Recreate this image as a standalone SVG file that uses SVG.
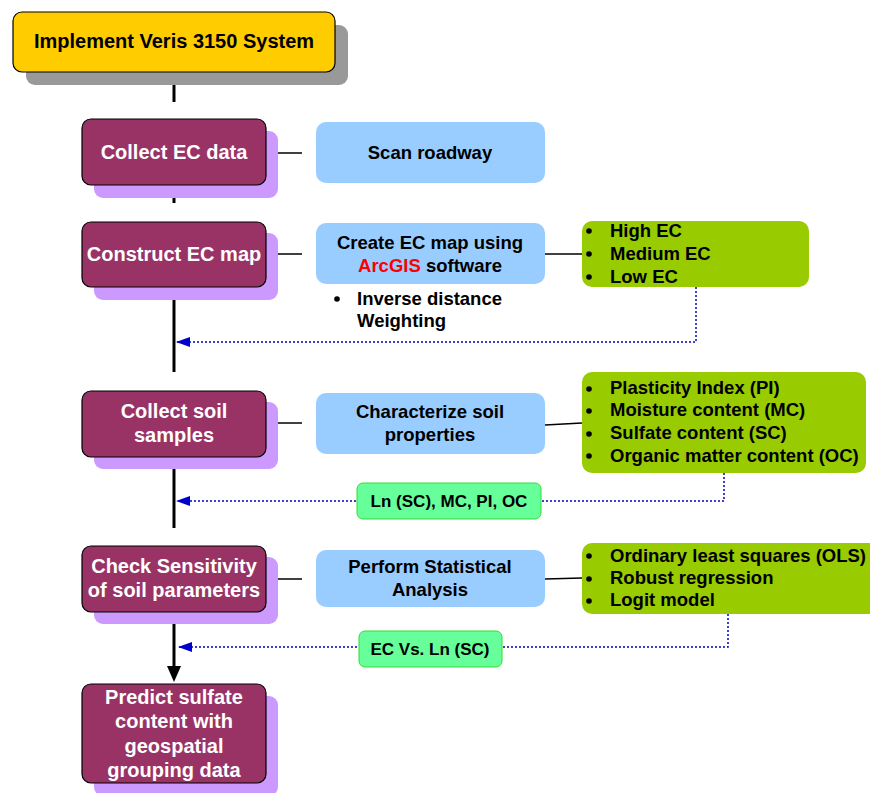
<svg xmlns="http://www.w3.org/2000/svg" width="870" height="793" viewBox="0 0 870 793">
<defs>
<style>
text{font-family:"Liberation Sans",Arial,sans-serif;font-weight:bold;font-size:18.5px;text-anchor:middle}
.w{fill:#fff;font-size:20px}
.t{font-size:20px}
.k{fill:#000}
.l{text-anchor:start}
.s{font-size:17px}
.main{fill:#993366;stroke:#000;stroke-width:1.2}
.msh{fill:#CC99FF}
.blue{fill:#99CCFF}
.grn{fill:#99CC00}
.lbl{fill:#66FF99;stroke:#33DD33;stroke-width:1}
.ln{stroke:#000;stroke-width:1.5;fill:none}
.thick{stroke:#000;stroke-width:3;fill:none}
.dot{stroke:#0000CC;stroke-width:1.5;stroke-dasharray:2 2;fill:none}
</style>
<marker id="ba" viewBox="0 0 14 10" refX="13" refY="5" markerWidth="14" markerHeight="10" markerUnits="userSpaceOnUse" orient="auto">
<path d="M0,0 L14,5 L0,10 Z" fill="#0000CC"/>
</marker>
</defs>
<rect width="870" height="793" fill="#fff"/>

<g id="connectors">
<line class="thick" x1="174" y1="72" x2="174" y2="102"/>
<line class="thick" x1="174" y1="185" x2="174" y2="203"/>
<line class="thick" x1="174" y1="287" x2="174" y2="372"/>
<line class="thick" x1="174" y1="457" x2="174" y2="528"/>
<line class="thick" x1="174" y1="612" x2="174" y2="666"/>
<path d="M167,666 L181,666 L174,682 Z" fill="#000"/>
<line class="ln" x1="265" y1="153" x2="302" y2="153"/>
<line class="ln" x1="265" y1="254" x2="302" y2="254"/>
<line class="ln" x1="545" y1="254" x2="582" y2="254"/>
<line class="ln" x1="265" y1="423" x2="302" y2="423"/>
<line class="ln" x1="545" y1="425" x2="582" y2="423"/>
<line class="ln" x1="265" y1="579" x2="302" y2="579"/>
<line class="ln" x1="545" y1="579" x2="582" y2="578"/>
<path class="dot" d="M696,287 V342 H177" marker-end="url(#ba)"/>
<path class="dot" d="M724,473 V501 H177" marker-end="url(#ba)"/>
<path class="dot" d="M728,614 V647 H179" marker-end="url(#ba)"/>
</g>

<g id="n-implement">
<rect x="26" y="25" width="322" height="60" rx="9" fill="#999"/>
<rect x="13" y="12" width="322" height="60" rx="9" fill="#FFCC00" stroke="#000" stroke-width="1.2"/>
<text class="k t" x="174" y="48">Implement Veris 3150 System</text>
</g>

<g id="n-collect-ec">
<rect class="msh" x="94" y="131" width="184" height="67" rx="9"/>
<rect class="main" x="82" y="119" width="184" height="66" rx="9"/>
<text class="w" x="174" y="159">Collect EC data</text>
</g>

<g id="n-scan">
<rect class="blue" x="316" y="122" width="229" height="61" rx="10"/>
<text class="k" x="430" y="159">Scan roadway</text>
</g>

<g id="n-construct">
<rect class="msh" x="94" y="233" width="184" height="67" rx="9"/>
<rect class="main" x="82" y="222" width="184" height="65" rx="9"/>
<text class="w" x="174" y="261">Construct EC map</text>
</g>

<g id="n-create">
<rect class="blue" x="316" y="223" width="229" height="61" rx="10"/>
<text class="k" x="430" y="249">Create EC map using</text>
<text class="k" x="430" y="272"><tspan fill="#FF0000">ArcGIS</tspan> software</text>
</g>

<g id="n-idw">
<circle cx="337" cy="299" r="2.8" fill="#000"/>
<text class="k l" x="357" y="305">Inverse distance</text>
<text class="k l" x="357" y="327">Weighting</text>
</g>

<g id="n-ec-levels">
<rect class="grn" x="582" y="221" width="227" height="66" rx="10"/>
<circle cx="589" cy="231" r="2.8" fill="#000"/>
<circle cx="589" cy="254" r="2.8" fill="#000"/>
<circle cx="589" cy="277" r="2.8" fill="#000"/>
<text class="k l" x="610" y="237">High EC</text>
<text class="k l" x="610" y="260">Medium EC</text>
<text class="k l" x="610" y="283">Low EC</text>
</g>

<g id="n-collect-soil">
<rect class="msh" x="94" y="402" width="184" height="67" rx="9"/>
<rect class="main" x="82" y="391" width="184" height="66" rx="9"/>
<text class="w" x="174" y="418">Collect soil</text>
<text class="w" x="174" y="442">samples</text>
</g>

<g id="n-characterize">
<rect class="blue" x="316" y="393" width="229" height="61" rx="10"/>
<text class="k" x="430" y="418">Characterize soil</text>
<text class="k" x="430" y="441">properties</text>
</g>

<g id="n-props">
<rect class="grn" x="582" y="372" width="284" height="101" rx="10"/>
<circle cx="589" cy="389" r="2.8" fill="#000"/>
<circle cx="589" cy="411" r="2.8" fill="#000"/>
<circle cx="589" cy="434" r="2.8" fill="#000"/>
<circle cx="589" cy="456" r="2.8" fill="#000"/>
<text class="k l" x="610" y="394">Plasticity Index (PI)</text>
<text class="k l" x="610" y="416">Moisture content (MC)</text>
<text class="k l" x="610" y="439">Sulfate content (SC)</text>
<text class="k l" x="610" y="462">Organic matter content (OC)</text>
</g>

<g id="n-label1">
<rect class="lbl" x="357" y="483" width="184" height="36" rx="6"/>
<text class="k s" x="449" y="507">Ln (SC), MC, PI, OC</text>
</g>

<g id="n-check">
<rect class="msh" x="94" y="557" width="184" height="67" rx="9"/>
<rect class="main" x="82" y="546" width="184" height="66" rx="9"/>
<text class="w" x="174" y="573">Check Sensitivity</text>
<text class="w" x="174" y="597">of soil parameters</text>
</g>

<g id="n-perform">
<rect class="blue" x="316" y="550" width="229" height="57" rx="10"/>
<text class="k" x="430" y="573">Perform Statistical</text>
<text class="k" x="430" y="596">Analysis</text>
</g>

<g id="n-models">
<rect class="grn" x="582" y="543" width="300" height="71" rx="10"/>
<circle cx="589" cy="556" r="2.8" fill="#000"/>
<circle cx="589" cy="579" r="2.8" fill="#000"/>
<circle cx="589" cy="601" r="2.8" fill="#000"/>
<text class="k l" x="610" y="562">Ordinary least squares (OLS)</text>
<text class="k l" x="610" y="584">Robust regression</text>
<text class="k l" x="610" y="606">Logit model</text>
</g>

<g id="n-label2">
<rect class="lbl" x="359" y="631" width="143" height="36" rx="6"/>
<text class="k s" x="430" y="655">EC Vs. Ln (SC)</text>
</g>

<g id="n-predict">
<rect class="msh" x="94" y="696" width="184" height="100" rx="9"/>
<rect class="main" x="82" y="684" width="184" height="99" rx="9"/>
<text class="w" x="174" y="704">Predict sulfate</text>
<text class="w" x="174" y="728">content with</text>
<text class="w" x="174" y="753">geospatial</text>
<text class="w" x="174" y="777">grouping data</text>
</g>
</svg>
